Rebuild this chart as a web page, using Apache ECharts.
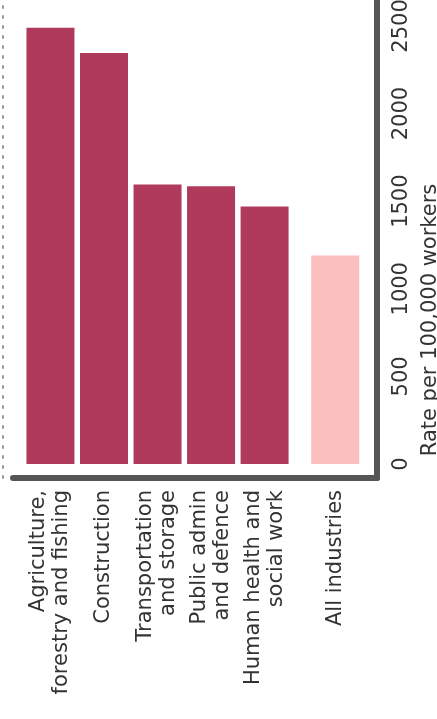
<!DOCTYPE html>
<html>
<head>
<meta charset="utf-8">
<script src="https://cdn.jsdelivr.net/npm/echarts@6/dist/echarts.min.js"></script>
<style>
html,body{margin:0;padding:0;background:#fff;}
#chart{width:437px;height:719px;}
</style>
</head>
<body>
<div id="chart"></div>
<script>
var categories = [
  "Agriculture,\nforestry and fishing",
  "Construction",
  "Transportation\nand storage",
  "Public admin\nand defence",
  "Human health and\nsocial work",
  "All industries"
];
var rates = [2490, 2345, 1595, 1585, 1470, 1190];
var valueTicks = [0, 500, 1000, 1500, 2000, 2500];
var axisTitle = "Rate per 100,000 workers";

var GAP_BEFORE_TOTAL = 0.32;
var positions = categories.map(function (c, i) {
  return i === categories.length - 1 ? i + GAP_BEFORE_TOTAL : i;
});
function nameAt(v) {
  for (var i = 0; i < positions.length; i++) {
    if (Math.abs(positions[i] - v) < 1e-6) return categories[i];
  }
  return '';
}
var barColor = '#B03A5B';
var totalColor = '#FBBFC0';
var axisColor = '#555555';
var textColor = '#333333';
var font = '"DejaVu Sans", sans-serif';

var chart = echarts.init(document.getElementById('chart'), null, {renderer: 'canvas'});
chart.setOption({
  backgroundColor: '#ffffff',
  animation: false,
  grid: {left: 13, right: 60, top: 0, bottom: 241, containLabel: false, outerBoundsMode: 'none'},
  xAxis: {
    type: 'value',
    min: -0.7,
    max: 6.1,
    splitLine: {show: false},
    axisTick: {show: false},
    axisLine: {show: true, onZero: false, lineStyle: {color: axisColor, width: 6, cap: 'round'}},
    axisLabel: {
      customValues: positions,
      formatter: function (v) { return nameAt(v); },
      rotate: 90,
      margin: 12,
      color: textColor,
      fontFamily: font,
      fontSize: 21,
      lineHeight: 23
    }
  },
  yAxis: [{
    type: 'value',
    position: 'right',
    min: -80,
    max: 2648,
    splitLine: {show: false},
    axisTick: {show: false},
    axisLine: {show: true, onZero: false, lineStyle: {color: axisColor, width: 6, cap: 'round'}},
    axisLabel: {
      customValues: valueTicks,
      formatter: function (v) { return String(v); },
      rotate: 90,
      margin: 14,
      color: textColor,
      fontFamily: font,
      fontSize: 21
    },
    name: axisTitle,
    nameLocation: 'middle',
    nameGap: 39,
    nameTextStyle: {
      color: textColor,
      fontFamily: font,
      fontSize: 21,
      padding: [0, 162, 0, 0]
    }
  }, {
    type: 'value',
    position: 'left',
    offset: 10,
    min: -80,
    max: 2648,
    splitLine: {show: false},
    axisTick: {show: false},
    axisLabel: {show: false},
    axisLine: {show: true, onZero: false, lineStyle: {color: '#9a9a9a', width: 2, type: [2, 8]}}
  }],
  series: [{
    type: 'bar',
    barWidth: 48,
    data: rates.map(function (r, i) {
      return {
        value: [positions[i], r],
        itemStyle: {color: i === rates.length - 1 ? totalColor : barColor}
      };
    })
  }]
});
</script>
</body>
</html>
